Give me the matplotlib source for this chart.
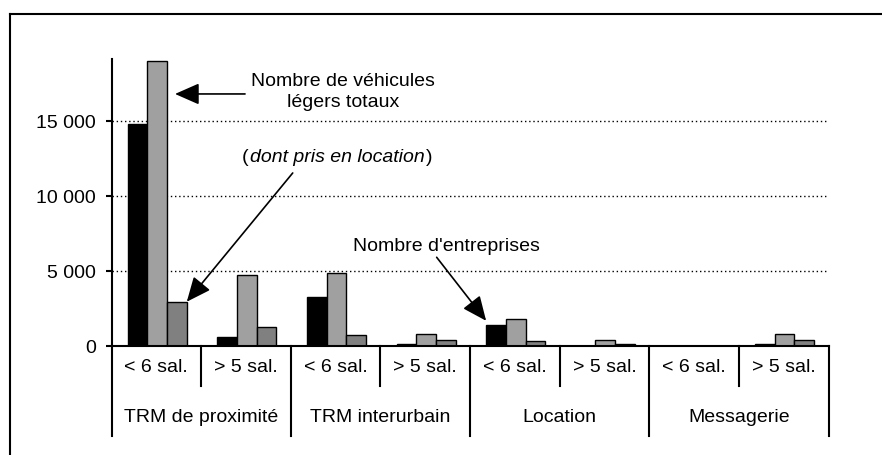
import matplotlib
matplotlib.use('Agg')
import matplotlib.pyplot as plt
import numpy as np
from matplotlib.lines import Line2D
from matplotlib.ticker import FuncFormatter
import matplotlib.transforms as mtransforms

plt.rcParams['font.family'] = ['Liberation Sans', 'DejaVu Sans']

# données
secteurs = ['TRM de proximité', 'TRM interurbain', 'Location', 'Messagerie']
tailles = ['< 6 sal.', '> 5 sal.']
entreprises = [14800, 620, 3250, 150, 1400, 0, 0, 150]
vehicules = [19000, 4700, 4850, 820, 1780, 430, 0, 830]
dont_location = [2950, 1250, 700, 430, 300, 150, 0, 430]

FS = 14
fig = plt.figure(figsize=(8.82, 4.56), dpi=100)
ax = fig.add_axes([111.5 / 882, 1 - 347 / 456, 717 / 882, 287 / 456])

x = np.arange(len(entreprises))
w = 0.22
ax.bar(x - 0.21, entreprises, w, color='black', edgecolor='black', linewidth=1, zorder=3)
ax.bar(x + 0.01, vehicules, w, color='#a0a0a0', edgecolor='black', linewidth=1, zorder=3)
ax.bar(x + 0.23, dont_location, w, color='#808080', edgecolor='black', linewidth=1, zorder=3)

ax.set_xlim(-0.5, len(x) - 0.5)
ax.set_ylim(0, 19130)
ax.set_yticks([0, 5000, 10000, 15000])
ax.yaxis.set_major_formatter(FuncFormatter(lambda v, p: f'{int(v):,}'.replace(',', ' ')))
ax.tick_params(axis='y', direction='out', length=4, width=1.5, pad=7, labelsize=FS)
ax.tick_params(axis='x', length=0, labelbottom=False)
ax.set_xticks([])
for v in [5000, 10000, 15000]:
    ax.axhline(v, color='black', linestyle=(0, (1, 2)), linewidth=1, zorder=1)
for s in ['top', 'right']:
    ax.spines[s].set_visible(False)
for s in ['left', 'bottom']:
    ax.spines[s].set_linewidth(1.5)
    ax.spines[s].set_zorder(4)

# axe des catégories à deux niveaux
trans = mtransforms.blended_transform_factory(ax.transData, ax.transAxes)
for i in range(len(x) + 1):
    xs = i - 0.5
    y_end = -0.3136 if i % 2 == 0 else -0.14
    ax.plot([xs, xs], [0, y_end], color='black', lw=1.5, transform=trans, clip_on=False)
for i in range(len(x)):
    ax.text(i, -0.07, tailles[i % 2], transform=trans, ha='center', va='center', fontsize=FS)
for j, s in enumerate(secteurs):
    ax.text(2 * j + 0.5, -0.247, s, transform=trans, ha='center', va='center', fontsize=FS)

arrow = dict(arrowstyle='-|>,head_length=0.75,head_width=0.33', mutation_scale=20,
             color='black', lw=1.2, shrinkA=0, shrinkB=0)

# annotations
ax.text(2.083, 17000, 'Nombre de véhicules\nlégers totaux', ha='center', va='center',
        fontsize=FS, linespacing=1.35)
ax.annotate('', xy=(0.2085, 16800), xytext=(0.99, 16800), arrowprops=arrow)

t1 = ax.text(0.953, 12333, '(', ha='left', va='baseline', fontsize=FS)
t2 = ax.annotate('dont pris en location', xy=(1, 12333), xycoords=(t1, 'data'),
                 xytext=(1, 0), textcoords='offset points',
                 ha='left', va='baseline', fontsize=FS, style='italic')
ax.annotate(')', xy=(1, 12333), xycoords=(t2, 'data'), xytext=(1, 0),
            textcoords='offset points', ha='left', va='baseline', fontsize=FS)
ax.annotate('', xy=(x[0] + 0.23 + w / 2, dont_location[0]), xytext=(1.522, 11533),
            arrowprops=arrow)

ax.text(3.232, 6667, "Nombre d'entreprises", ha='center', va='center', fontsize=FS)
ax.annotate('', xy=(x[4] - 0.21 - w / 2, entreprises[4] + 280), xytext=(3.128, 5913),
            arrowprops=arrow)

# cadre
fig.add_artist(Line2D([9.5 / 882, 1], [1 - 14.5 / 456, 1 - 14.5 / 456], color='black', lw=1.5,
                      transform=fig.transFigure))
fig.add_artist(Line2D([9.5 / 882, 9.5 / 882], [0, 1 - 14.5 / 456], color='black', lw=1.5,
                      transform=fig.transFigure))

fig.savefig('out.png', dpi=100)
